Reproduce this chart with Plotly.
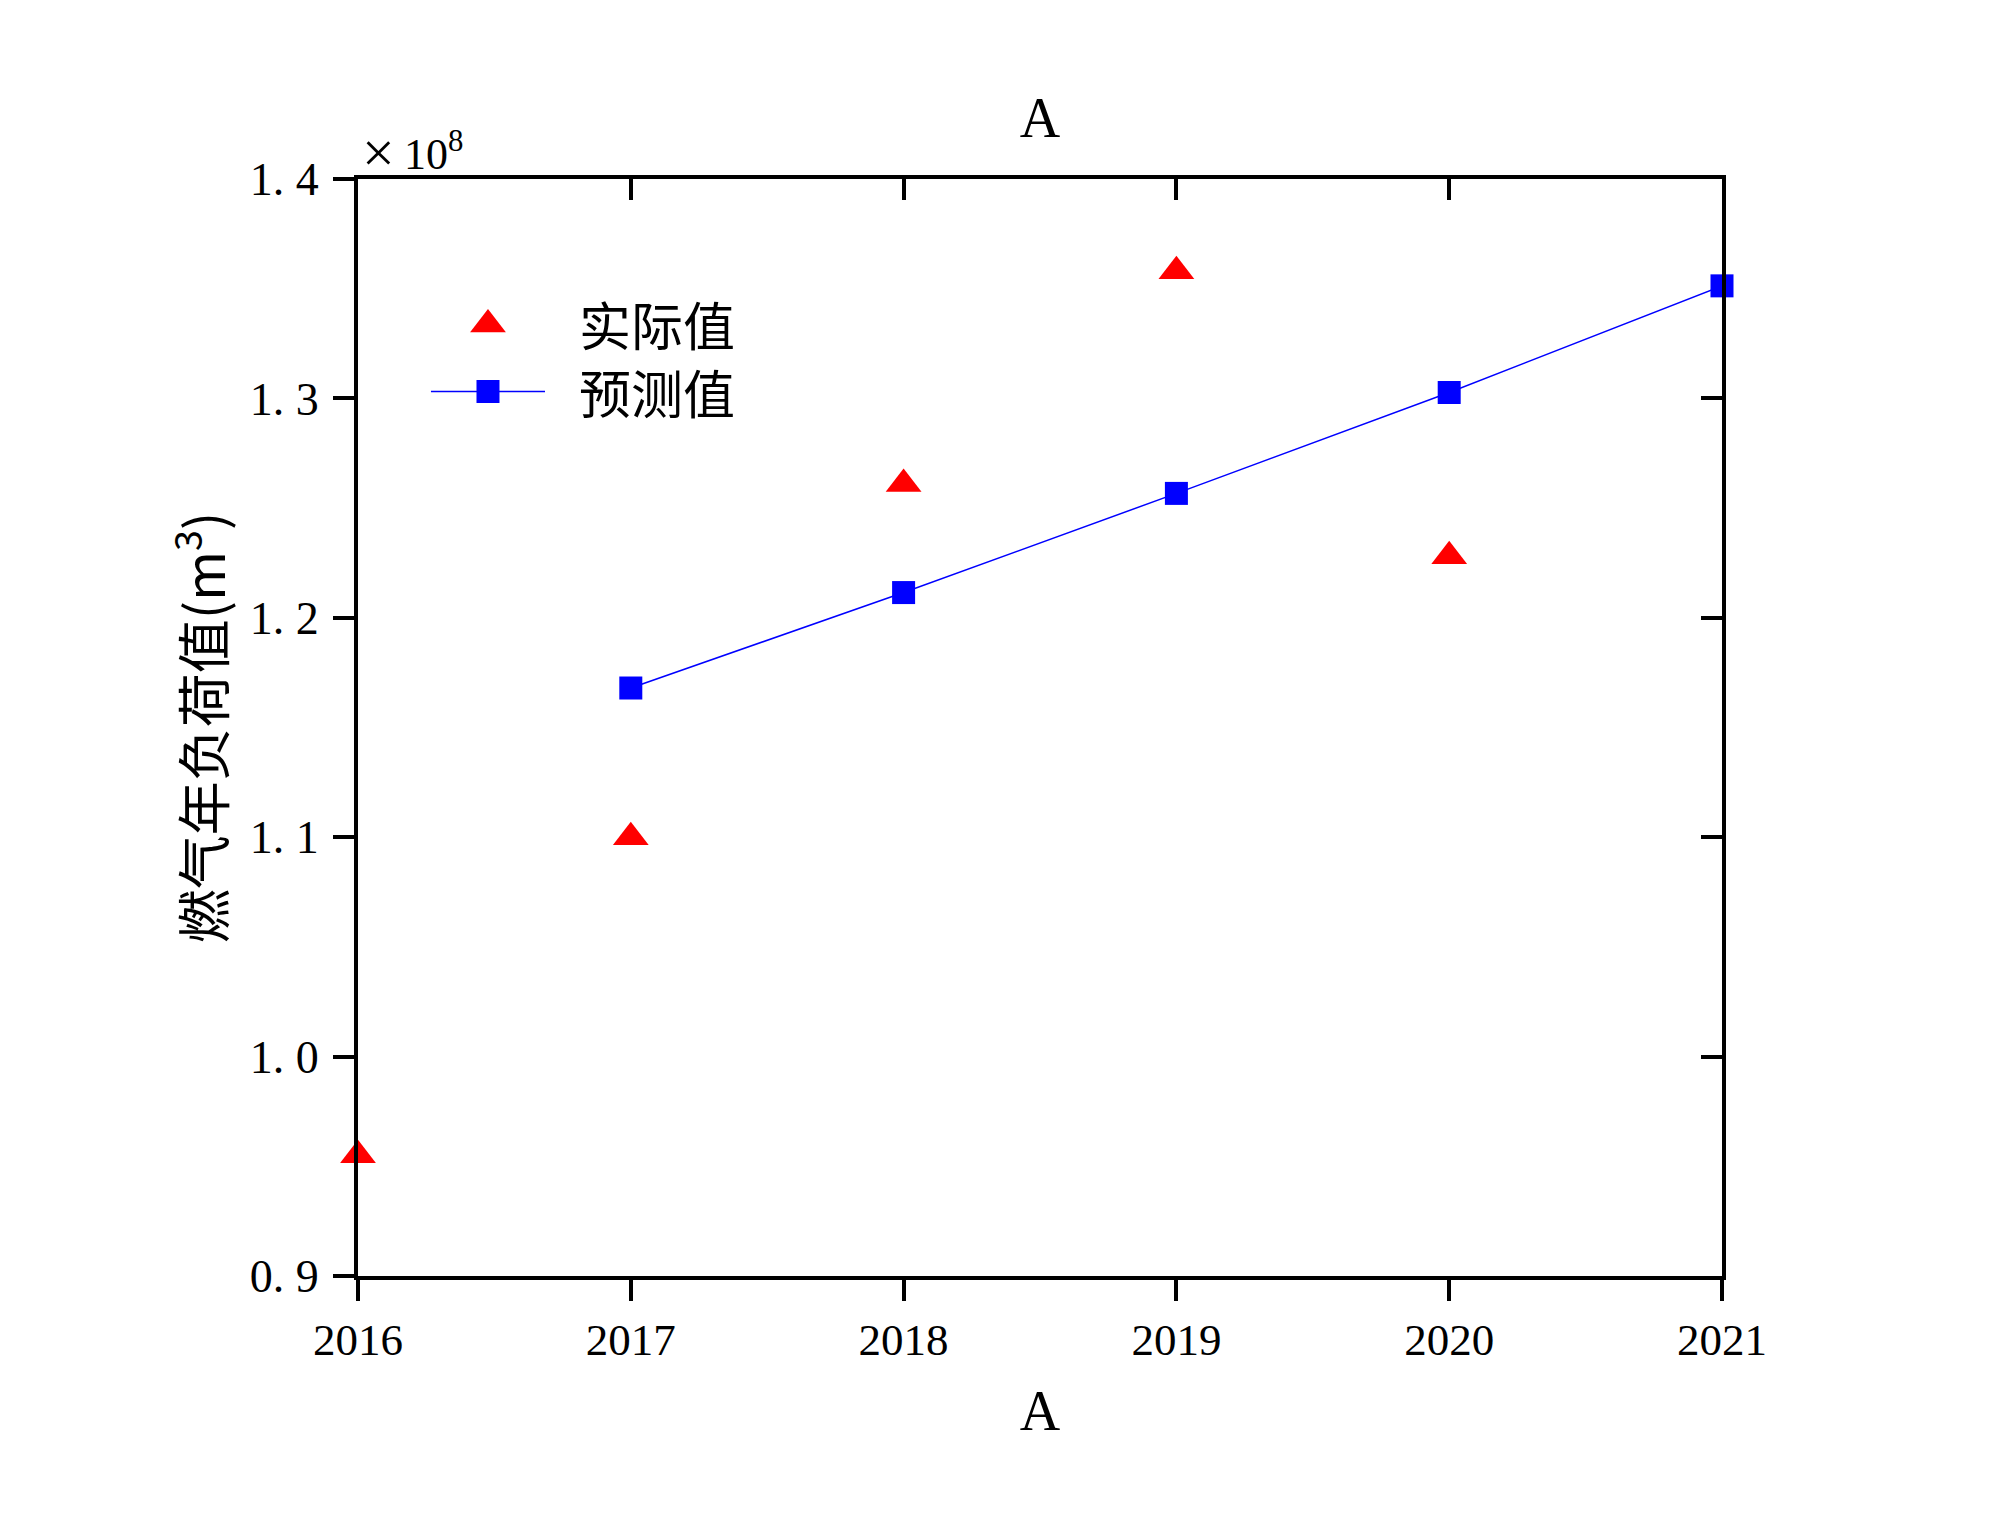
import plotly.graph_objects as go

years = [2016, 2017, 2018, 2019, 2020, 2021]
actual_years = [2016, 2017, 2018, 2019, 2020]
actual_vals = [0.955e8, 1.100e8, 1.261e8, 1.358e8, 1.228e8]
pred_years = [2017, 2018, 2019, 2020, 2021]
pred_vals = [1.168e8, 1.2115e8, 1.2567e8, 1.3027e8, 1.3513e8]

y_tick_vals = [0.9e8, 1.0e8, 1.1e8, 1.2e8, 1.3e8, 1.4e8]
y_tick_text = ["0. 9", "1. 0", "1. 1", "1. 2", "1. 3", "1. 4"]
x_tick_text = [str(y) for y in years]
series_names = ["实际值", "预测值"]

FONT = "Liberation Serif, Noto Sans CJK SC"
CJK = "Noto Sans CJK SC, Liberation Serif"
RED = "#ff0000"
BLUE = "#0000ff"
TRI_SIZE = 31
SQ_SIZE = 23

# figure geometry (page has an 8px body margin)
W, H = 1992, 1523
ML, MT, PW, PH = 350, 171, 1364, 1097

fig = go.Figure()
fig.add_trace(go.Scatter(
    x=actual_years, y=actual_vals, mode="markers", name=series_names[0],
    marker=dict(symbol="triangle-up", size=TRI_SIZE, color=RED),
    cliponaxis=False, showlegend=False,
))
fig.add_trace(go.Scatter(
    x=pred_years, y=pred_vals, mode="lines+markers", name=series_names[1],
    line=dict(color=BLUE, width=1.5),
    marker=dict(symbol="square", size=SQ_SIZE, color=BLUE),
    cliponaxis=False, showlegend=False,
))
# invisible trace on mirror axes
fig.add_trace(go.Scatter(x=[2016], y=[0.9e8], xaxis="x2", yaxis="y2",
                         mode="markers", marker=dict(opacity=0),
                         showlegend=False, hoverinfo="skip"))

# custom legend keys drawn on a hidden unit axis covering the plot area
leg_x_sym = 0.0953
leg_x_line = [0.0535, 0.1371]
leg_y = [0.8674, 0.8063]
leg_x_text = 0.1606
fig.add_trace(go.Scatter(x=[leg_x_sym], y=[leg_y[0]], xaxis="x3", yaxis="y3",
                         mode="markers", showlegend=False, hoverinfo="skip",
                         marker=dict(symbol="triangle-up", size=TRI_SIZE, color=RED),
                         cliponaxis=False))
fig.add_trace(go.Scatter(x=leg_x_line, y=[leg_y[1], leg_y[1]], xaxis="x3", yaxis="y3",
                         mode="lines", showlegend=False, hoverinfo="skip",
                         line=dict(color=BLUE, width=1.5), cliponaxis=False))
fig.add_trace(go.Scatter(x=[leg_x_sym], y=[leg_y[1]], xaxis="x3", yaxis="y3",
                         mode="markers", showlegend=False, hoverinfo="skip",
                         marker=dict(symbol="square", size=SQ_SIZE, color=BLUE),
                         cliponaxis=False))

axis_common = dict(showgrid=False, zeroline=False, showline=True,
                   linecolor="black", linewidth=4, tickcolor="black",
                   tickwidth=4, ticklen=21)
hidden = dict(visible=False, range=[0, 1], fixedrange=True, showgrid=False,
              zeroline=False)

annotations = [
    dict(text="×", x=0, y=1, xref="paper", yref="paper",
         xanchor="left", yanchor="bottom", showarrow=False,
         xshift=2, yshift=-8, font=dict(size=58, family=FONT)),
    dict(text="10<sup>8</sup>", x=0, y=1, xref="paper", yref="paper",
         xanchor="left", yanchor="bottom", showarrow=False,
         xshift=44, yshift=-2, font=dict(size=44, family=FONT)),
    dict(text="<br>".join(series_names), x=leg_x_text, y=sum(leg_y) / 2,
         xref="paper", yref="paper", xanchor="left", yanchor="middle",
         align="left", showarrow=False,
         font=dict(size=52, family=CJK, color="black")),
]

fig.update_layout(
    width=W, height=H,
    paper_bgcolor="white", plot_bgcolor="white",
    margin=dict(l=ML, r=W - ML - PW, t=MT, b=H - MT - PH),
    font=dict(family=FONT, color="black"),
    title=dict(text="A", x=0.5, xref="paper", xanchor="center", y=1 - 109 / H,
               yanchor="middle", font=dict(size=56, family=FONT)),
    xaxis=dict(**axis_common, range=[2016, 2021], tickvals=years,
               ticktext=x_tick_text, ticks="outside",
               tickfont=dict(size=45, family=FONT),
               title=dict(text="A", font=dict(size=56, family=FONT), standoff=28)),
    yaxis=dict(**axis_common, range=[0.9e8, 1.4e8], tickvals=y_tick_vals,
               ticktext=y_tick_text, ticks="outside",
               tickfont=dict(size=46, family=FONT), ticklabelstandoff=5,
               title=dict(text="燃气年负荷值(m<sup>3</sup>)",
                          font=dict(size=54, family=CJK), standoff=8)),
    xaxis2=dict(**axis_common, range=[2016, 2021], tickvals=years,
                ticks="inside", showticklabels=False, overlaying="x",
                side="top", anchor="y"),
    yaxis2=dict(**axis_common, range=[0.9e8, 1.4e8], tickvals=y_tick_vals,
                ticks="inside", showticklabels=False, overlaying="y",
                side="right", anchor="x"),
    xaxis3=dict(**hidden, overlaying="x", anchor="y3"),
    yaxis3=dict(**hidden, overlaying="y", anchor="x3"),
    showlegend=False,
    annotations=annotations,
)

fig.write_html("out.html")
